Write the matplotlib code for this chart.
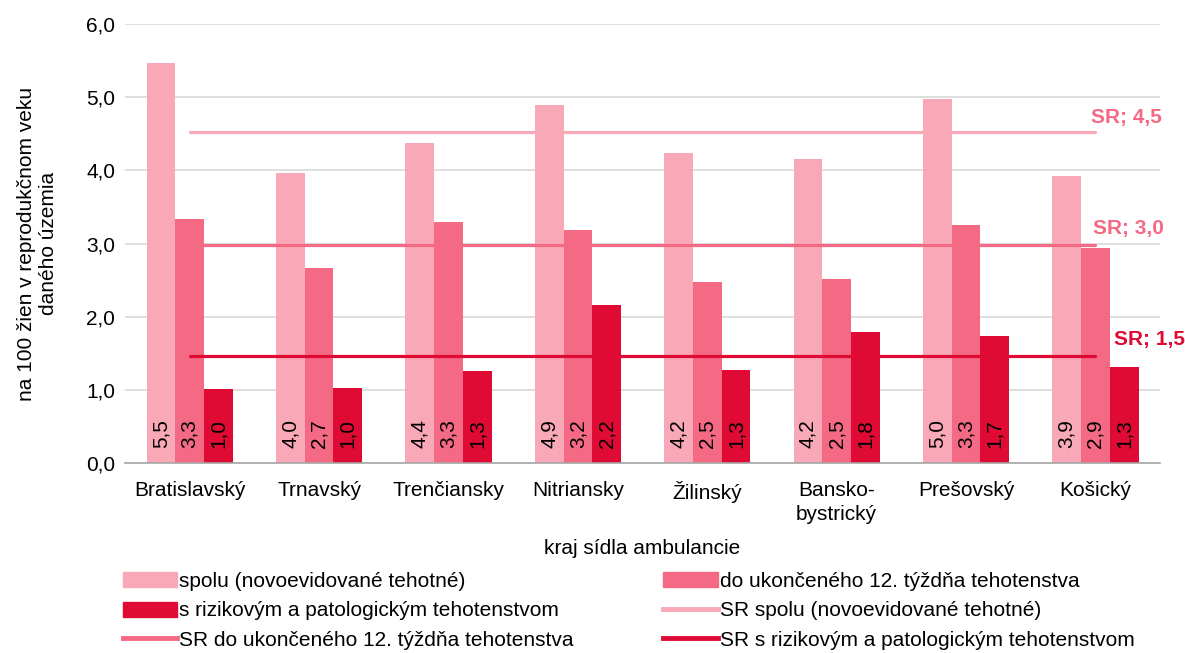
import numpy as np
import matplotlib.pyplot as plt
from matplotlib.patches import Patch
from matplotlib.lines import Line2D

plt.rcParams['font.family'] = ['Liberation Sans', 'DejaVu Sans']

# data
kraje = ['Bratislavský', 'Trnavský', 'Trenčiansky', 'Nitriansky', 'Žilinský',
         'Bansko-\nbystrický', 'Prešovský', 'Košický']
spolu = [5.47, 3.97, 4.38, 4.89, 4.24, 4.16, 4.98, 3.93]
do12 = [3.33, 2.67, 3.29, 3.19, 2.48, 2.51, 3.26, 2.94]
riziko = [1.01, 1.02, 1.26, 2.16, 1.27, 1.79, 1.74, 1.31]
sr_spolu = 4.52
sr_do12 = 2.98
sr_riziko = 1.46

c1 = '#F9A8B7'
c2 = '#F46A84'
c3 = '#E00B34'
fs = 15

fig = plt.figure(figsize=(11.85, 6.53), dpi=100)
ax = fig.add_axes([0.1055, 0.291, 0.8735, 0.672])

x = np.arange(len(kraje))
w = 0.222
series = [(spolu, c1), (do12, c2), (riziko, c3)]
for k, (vals, col) in enumerate(series):
    pos = x + (k - 1) * w
    ax.bar(pos, vals, w, color=col, zorder=2)
    for xi, v in zip(pos, vals):
        ax.text(xi, 0.2, f'{v:.1f}'.replace('.', ','), rotation=90,
                ha='center', va='bottom', fontsize=fs, color='black', zorder=5)

# SR lines
for val, col in [(sr_spolu, c1), (sr_do12, c2), (sr_riziko, c3)]:
    ax.plot([x[0], x[-1]], [val, val], color=col, lw=2.3, zorder=3,
            solid_capstyle='round')

ax.text(7.51, 4.73, 'SR; ' + f'{sr_spolu:.1f}'.replace('.', ','), color=c2,
        fontsize=fs, fontweight='bold', ha='right', va='center', clip_on=False)
ax.text(7.53, 3.2, 'SR; ' + f'{sr_do12:.1f}'.replace('.', ','), color=c2,
        fontsize=fs, fontweight='bold', ha='right', va='center', clip_on=False)
ax.text(7.69, 1.69, 'SR; ' + f'{sr_riziko:.1f}'.replace('.', ','), color=c3,
        fontsize=fs, fontweight='bold', ha='right', va='center', clip_on=False)

ax.set_xlim(-0.5, 7.5)
ax.set_ylim(0, 6)
ax.set_yticks(np.arange(0, 6.1, 1))
ax.set_yticklabels([f'{v:.1f}'.replace('.', ',') for v in np.arange(0, 6.1, 1)],
                   fontsize=fs)
ax.set_xticks(x)
ax.set_xticklabels(kraje, fontsize=fs, linespacing=1.3)
ax.tick_params(axis='x', length=0, pad=13)
ax.tick_params(axis='y', length=0, pad=7)
ax.yaxis.grid(True, color='#D9D9D9', lw=1.2, zorder=0)
ax.set_axisbelow(True)
for s in ['top', 'right', 'left']:
    ax.spines[s].set_visible(False)
ax.spines['bottom'].set_color('#A6A6A6')
ax.spines['bottom'].set_linewidth(1.2)

ax.set_ylabel('na 100 žien v reprodukčnom veku\ndaného územia', fontsize=fs,
              labelpad=20, linespacing=1.2)
ax.set_xlabel('kraj sídla ambulancie', fontsize=fs, labelpad=11)

# legend
h1 = [Patch(color=c1), Patch(color=c3), Line2D([], [], color=c2, lw=3.5)]
l1 = ['spolu (novoevidované tehotné)', 's rizikovým a patologickým tehotenstvom',
      'SR do ukončeného 12. týždňa tehotenstva']
h2 = [Patch(color=c2), Line2D([], [], color=c1, lw=3.5), Line2D([], [], color=c3, lw=3.5)]
l2 = ['do ukončeného 12. týždňa tehotenstva', 'SR spolu (novoevidované tehotné)',
      'SR s rizikovým a patologickým tehotenstvom']
kw = dict(frameon=False, fontsize=fs, handlelength=2.6, handleheight=0.75,
          handletextpad=0.1, labelspacing=0.5, borderpad=0, loc='upper left')
fig.legend(h1, l1, bbox_to_anchor=(0.095, 0.14), **kw)
fig.legend(h2, l2, bbox_to_anchor=(0.551, 0.14), **kw)

fig.savefig('out.png', dpi=100)
